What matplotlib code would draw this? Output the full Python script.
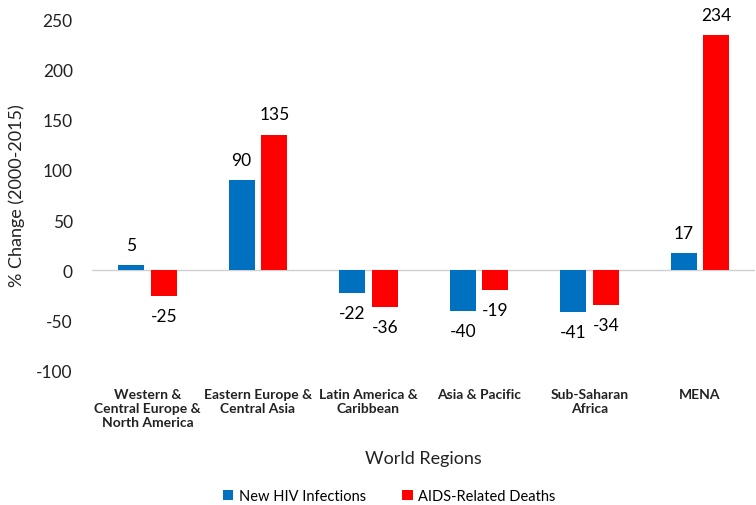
import numpy as np
import matplotlib.pyplot as plt

plt.rcParams['font.family'] = ['Lato', 'DejaVu Sans']

regions = ["Western &\nCentral Europe &\nNorth America", "Eastern Europe &\nCentral Asia",
           "Latin America &\nCaribbean", "Asia & Pacific", "Sub-Saharan\nAfrica", "MENA"]
new_infections = [5, 90, -22, -40, -41, 17]
aids_deaths = [-25, 135, -36, -19, -34, 234]
yticks = [-100, -50, 0, 50, 100, 150, 200, 250]

fig = plt.figure(figsize=(7.56, 5.06), dpi=100)
ax = fig.add_axes([0.122, 0.265, 0.877, 0.695])

x = np.arange(len(regions))
w = 0.235
gap = 0.06
b1 = ax.bar(x - (w + gap) / 2, new_infections, w, color="#0070C0", label="New HIV Infections")
b2 = ax.bar(x + (w + gap) / 2, aids_deaths, w, color="#FF0000", label="AIDS-Related Deaths")

for bars in (b1, b2):
    for b in bars:
        v = b.get_height()
        xc = b.get_x() + b.get_width() / 2
        if v >= 0:
            ax.annotate(str(v), (xc, v), xytext=(0, 9), textcoords="offset points",
                        ha="center", va="bottom", fontsize=12.5, color="#000000")
        else:
            ax.annotate(str(v), (xc, v), xytext=(0, -9), textcoords="offset points",
                        ha="center", va="top", fontsize=12.5, color="#000000")

ax.set_xlim(-0.5, len(regions) - 0.5)
ax.set_ylim(-100, 250)
ax.set_yticks(yticks)
ax.set_yticklabels([str(t) for t in yticks], fontsize=12.5, color="#222222")
ax.set_xticks(x)
ax.set_xticklabels(regions, fontsize=10, fontweight="bold", color="#222222")
ax.tick_params(length=0)
ax.tick_params(axis="x", pad=12)
ax.tick_params(axis="y", pad=14)
for s in ax.spines.values():
    s.set_visible(False)
ax.axhline(0, color="#D0D0D0", lw=1, zorder=0)

ax.set_ylabel("% Change (2000-2015)", fontsize=13, color="#222222", labelpad=8)
ax.set_xlabel("World Regions", fontsize=13, color="#222222", labelpad=16)
fig.legend(handles=[b1, b2], loc="center", bbox_to_anchor=(0.515, 0.018), ncol=2, frameon=False,
           fontsize=10.5, handlelength=0.7, handleheight=0.7, columnspacing=2.5, handletextpad=0.4)

fig.savefig("out.png", dpi=100)
